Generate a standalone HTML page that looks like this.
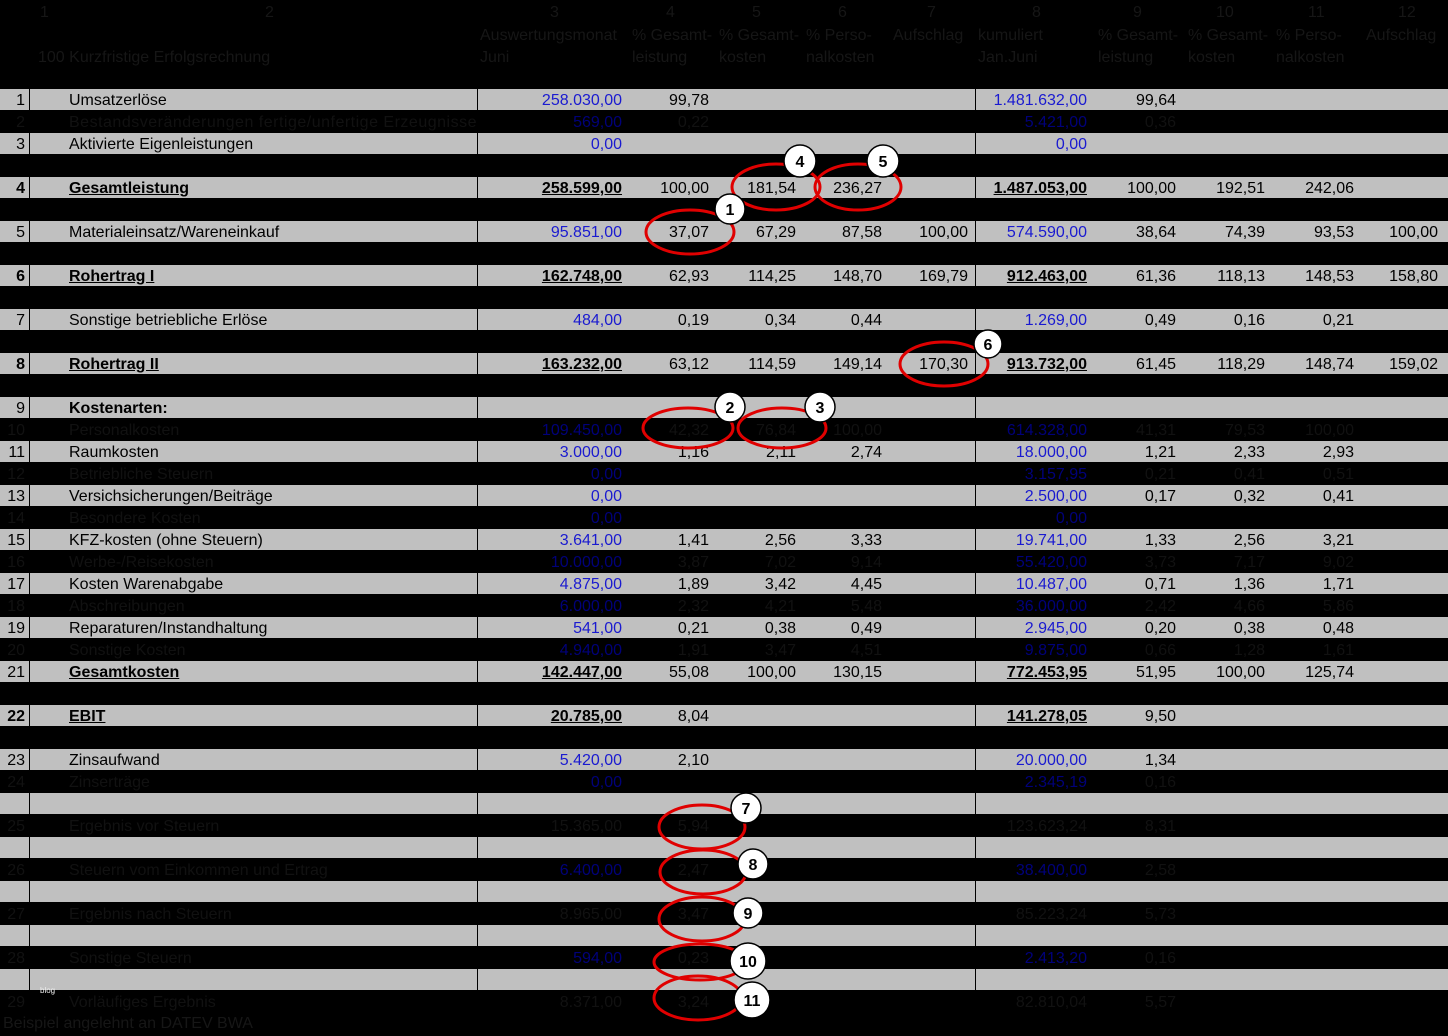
<!DOCTYPE html>
<html><head><meta charset="utf-8"><style>
body{margin:0;background:#000;width:1448px;height:1036px;overflow:hidden;position:relative;font-family:"Liberation Sans",Arial,sans-serif}
.r{position:absolute;left:0;width:1448px;height:21px;line-height:24px;font-size:16px;color:#111}
.g{background:#c0c0c0;color:#000}
.g::before{content:"";position:absolute;left:29px;top:0;bottom:0;border-left:1px solid #000}
.g .v1,.g .v2{position:absolute;top:0;bottom:0;border-left:1px solid #000}
.v1{left:477px}.v2{left:975px}
.r span{position:absolute;white-space:nowrap}
.n{right:1423px}.l{left:69px}
.a{right:826px}.b{right:739px}.c{right:652px}.d{right:566px}.e{right:480px}
.f{right:361px}.h{right:272px}.i{right:183px}.j{right:94px}.m{right:10px}
.bl{color:#1a1ad0}.r.k .bl{color:#00007a}
.B{font-weight:bold}.U{text-decoration:underline}
.hd{position:absolute;color:#161616;font-size:16px;white-space:nowrap}
</style></head><body>
<div class="hd" style="left:40px;top:4px">1</div>
<div class="hd" style="left:265px;top:4px">2</div>
<div class="hd" style="left:550px;top:4px">3</div>
<div class="hd" style="left:666px;top:4px">4</div>
<div class="hd" style="left:752px;top:4px">5</div>
<div class="hd" style="left:838px;top:4px">6</div>
<div class="hd" style="left:927px;top:4px">7</div>
<div class="hd" style="left:1032px;top:4px">8</div>
<div class="hd" style="left:1133px;top:4px">9</div>
<div class="hd" style="left:1216px;top:4px">10</div>
<div class="hd" style="left:1308px;top:4px">11</div>
<div class="hd" style="left:1398px;top:4px">12</div>
<div class="hd" style="left:480px;top:27px">Auswertungsmonat</div>
<div class="hd" style="left:480px;top:49px">Juni</div>
<div class="hd" style="left:38px;top:49px">100 Kurzfristige Erfolgsrechnung</div>
<div class="hd" style="left:632px;top:27px">% Gesamt-</div><div class="hd" style="left:632px;top:49px">leistung</div>
<div class="hd" style="left:719px;top:27px">% Gesamt-</div><div class="hd" style="left:719px;top:49px">kosten</div>
<div class="hd" style="left:806px;top:27px">% Perso-</div><div class="hd" style="left:806px;top:49px">nalkosten</div>
<div class="hd" style="left:893px;top:27px">Aufschlag</div>
<div class="hd" style="left:978px;top:27px">kumuliert</div><div class="hd" style="left:978px;top:49px">Jan.Juni</div>
<div class="hd" style="left:1098px;top:27px">% Gesamt-</div><div class="hd" style="left:1098px;top:49px">leistung</div>
<div class="hd" style="left:1188px;top:27px">% Gesamt-</div><div class="hd" style="left:1188px;top:49px">kosten</div>
<div class="hd" style="left:1276px;top:27px">% Perso-</div><div class="hd" style="left:1276px;top:49px">nalkosten</div>
<div class="hd" style="left:1366px;top:27px">Aufschlag</div>

<div class="r g" style="top:89px"><i class="v1"></i><i class="v2"></i><span class="n">1</span><span class="l">Umsatzerlöse</span><span class="a bl">258.030,00</span><span class="b">99,78</span><span class="f bl">1.481.632,00</span><span class="h">99,64</span></div>
<div class="r k" style="top:111px"><span class="n">2</span><span class="l" style="letter-spacing:0.5px">Bestandsveränderungen fertige/unfertige Erzeugnisse</span><span class="a bl">569,00</span><span class="b">0,22</span><span class="f bl">5.421,00</span><span class="h">0,36</span></div>
<div class="r g" style="top:133px"><i class="v1"></i><i class="v2"></i><span class="n">3</span><span class="l">Aktivierte Eigenleistungen</span><span class="a bl">0,00</span><span class="f bl">0,00</span></div>
<div class="r g" style="top:177px"><i class="v1"></i><i class="v2"></i><span class="n B">4</span><span class="l B U">Gesamtleistung</span><span class="a B U">258.599,00</span><span class="b">100,00</span><span class="c">181,54</span><span class="d">236,27</span><span class="f B U">1.487.053,00</span><span class="h">100,00</span><span class="i">192,51</span><span class="j">242,06</span></div>
<div class="r g" style="top:221px"><i class="v1"></i><i class="v2"></i><span class="n">5</span><span class="l">Materialeinsatz/Wareneinkauf</span><span class="a bl">95.851,00</span><span class="b">37,07</span><span class="c">67,29</span><span class="d">87,58</span><span class="e">100,00</span><span class="f bl">574.590,00</span><span class="h">38,64</span><span class="i">74,39</span><span class="j">93,53</span><span class="m">100,00</span></div>
<div class="r g" style="top:265px"><i class="v1"></i><i class="v2"></i><span class="n B">6</span><span class="l B U">Rohertrag I</span><span class="a B U">162.748,00</span><span class="b">62,93</span><span class="c">114,25</span><span class="d">148,70</span><span class="e">169,79</span><span class="f B U">912.463,00</span><span class="h">61,36</span><span class="i">118,13</span><span class="j">148,53</span><span class="m">158,80</span></div>
<div class="r g" style="top:309px"><i class="v1"></i><i class="v2"></i><span class="n">7</span><span class="l">Sonstige betriebliche Erlöse</span><span class="a bl">484,00</span><span class="b">0,19</span><span class="c">0,34</span><span class="d">0,44</span><span class="f bl">1.269,00</span><span class="h">0,49</span><span class="i">0,16</span><span class="j">0,21</span></div>
<div class="r g" style="top:353px"><i class="v1"></i><i class="v2"></i><span class="n B">8</span><span class="l B U">Rohertrag II</span><span class="a B U">163.232,00</span><span class="b">63,12</span><span class="c">114,59</span><span class="d">149,14</span><span class="e">170,30</span><span class="f B U">913.732,00</span><span class="h">61,45</span><span class="i">118,29</span><span class="j">148,74</span><span class="m">159,02</span></div>
<div class="r g" style="top:397px"><i class="v1"></i><i class="v2"></i><span class="n">9</span><span class="l B">Kostenarten:</span></div>
<div class="r k" style="top:419px"><span class="n">10</span><span class="l">Personalkosten</span><span class="a bl">109.450,00</span><span class="b">42,32</span><span class="c">76,84</span><span class="d">100,00</span><span class="f bl">614.328,00</span><span class="h">41,31</span><span class="i">79,53</span><span class="j">100,00</span></div>
<div class="r g" style="top:441px"><i class="v1"></i><i class="v2"></i><span class="n">11</span><span class="l">Raumkosten</span><span class="a bl">3.000,00</span><span class="b">1,16</span><span class="c">2,11</span><span class="d">2,74</span><span class="f bl">18.000,00</span><span class="h">1,21</span><span class="i">2,33</span><span class="j">2,93</span></div>
<div class="r k" style="top:463px"><span class="n">12</span><span class="l">Betriebliche Steuern</span><span class="a bl">0,00</span><span class="f bl">3.157,95</span><span class="h">0,21</span><span class="i">0,41</span><span class="j">0,51</span></div>
<div class="r g" style="top:485px"><i class="v1"></i><i class="v2"></i><span class="n">13</span><span class="l">Versichsicherungen/Beiträge</span><span class="a bl">0,00</span><span class="f bl">2.500,00</span><span class="h">0,17</span><span class="i">0,32</span><span class="j">0,41</span></div>
<div class="r k" style="top:507px"><span class="n">14</span><span class="l">Besondere Kosten</span><span class="a bl">0,00</span><span class="f bl">0,00</span></div>
<div class="r g" style="top:529px"><i class="v1"></i><i class="v2"></i><span class="n">15</span><span class="l">KFZ-kosten (ohne Steuern)</span><span class="a bl">3.641,00</span><span class="b">1,41</span><span class="c">2,56</span><span class="d">3,33</span><span class="f bl">19.741,00</span><span class="h">1,33</span><span class="i">2,56</span><span class="j">3,21</span></div>
<div class="r k" style="top:551px"><span class="n">16</span><span class="l">Werbe-/Reisekosten</span><span class="a bl">10.000,00</span><span class="b">3,87</span><span class="c">7,02</span><span class="d">9,14</span><span class="f bl">55.420,00</span><span class="h">3,73</span><span class="i">7,17</span><span class="j">9,02</span></div>
<div class="r g" style="top:573px"><i class="v1"></i><i class="v2"></i><span class="n">17</span><span class="l">Kosten Warenabgabe</span><span class="a bl">4.875,00</span><span class="b">1,89</span><span class="c">3,42</span><span class="d">4,45</span><span class="f bl">10.487,00</span><span class="h">0,71</span><span class="i">1,36</span><span class="j">1,71</span></div>
<div class="r k" style="top:595px"><span class="n">18</span><span class="l">Abschreibungen</span><span class="a bl">6.000,00</span><span class="b">2,32</span><span class="c">4,21</span><span class="d">5,48</span><span class="f bl">36.000,00</span><span class="h">2,42</span><span class="i">4,66</span><span class="j">5,86</span></div>
<div class="r g" style="top:617px"><i class="v1"></i><i class="v2"></i><span class="n">19</span><span class="l">Reparaturen/Instandhaltung</span><span class="a bl">541,00</span><span class="b">0,21</span><span class="c">0,38</span><span class="d">0,49</span><span class="f bl">2.945,00</span><span class="h">0,20</span><span class="i">0,38</span><span class="j">0,48</span></div>
<div class="r k" style="top:639px"><span class="n">20</span><span class="l">Sonstige Kosten</span><span class="a bl">4.940,00</span><span class="b">1,91</span><span class="c">3,47</span><span class="d">4,51</span><span class="f bl">9.875,00</span><span class="h">0,66</span><span class="i">1,28</span><span class="j">1,61</span></div>
<div class="r g" style="top:661px"><i class="v1"></i><i class="v2"></i><span class="n">21</span><span class="l B U">Gesamtkosten</span><span class="a B U">142.447,00</span><span class="b">55,08</span><span class="c">100,00</span><span class="d">130,15</span><span class="f B U">772.453,95</span><span class="h">51,95</span><span class="i">100,00</span><span class="j">125,74</span></div>
<div class="r g" style="top:705px"><i class="v1"></i><i class="v2"></i><span class="n B">22</span><span class="l B U">EBIT</span><span class="a B U">20.785,00</span><span class="b">8,04</span><span class="f B U">141.278,05</span><span class="h">9,50</span></div>
<div class="r g" style="top:749px"><i class="v1"></i><i class="v2"></i><span class="n">23</span><span class="l">Zinsaufwand</span><span class="a bl">5.420,00</span><span class="b">2,10</span><span class="f bl">20.000,00</span><span class="h">1,34</span></div>
<div class="r k" style="top:771px"><span class="n">24</span><span class="l">Zinserträge</span><span class="a bl">0,00</span><span class="f bl">2.345,19</span><span class="h">0,16</span></div>
<div class="r g" style="top:793px"><i class="v1"></i><i class="v2"></i></div>
<div class="r k" style="top:815px"><span class="n">25</span><span class="l">Ergebnis vor Steuern</span><span class="a">15.365,00</span><span class="b">5,94</span><span class="f">123.623,24</span><span class="h">8,31</span></div>
<div class="r g" style="top:837px"><i class="v1"></i><i class="v2"></i></div>
<div class="r k" style="top:859px"><span class="n">26</span><span class="l">Steuern vom Einkommen und Ertrag</span><span class="a bl">6.400,00</span><span class="b">2,47</span><span class="f bl">38.400,00</span><span class="h">2,58</span></div>
<div class="r g" style="top:881px"><i class="v1"></i><i class="v2"></i></div>
<div class="r k" style="top:903px"><span class="n">27</span><span class="l">Ergebnis nach Steuern</span><span class="a">8.965,00</span><span class="b">3,47</span><span class="f">85.223,24</span><span class="h">5,73</span></div>
<div class="r g" style="top:925px"><i class="v1"></i><i class="v2"></i></div>
<div class="r k" style="top:947px"><span class="n">28</span><span class="l">Sonstige Steuern</span><span class="a bl">594,00</span><span class="b">0,23</span><span class="f bl">2.413,20</span><span class="h">0,16</span></div>
<div class="r g" style="top:969px"><i class="v1"></i><i class="v2"></i></div>
<div class="r k" style="top:991px"><span class="n">29</span><span class="l">Vorläufiges Ergebnis</span><span class="a">8.371,00</span><span class="b">3,24</span><span class="f">82.810,04</span><span class="h">5,57</span></div>
<div class="hd" style="left:3px;top:1015px">Beispiel angelehnt an DATEV BWA</div>
<div class="hd" style="left:40px;top:986px;font-size:8px;color:#eee">blog</div>

<svg width="1448" height="1036" style="position:absolute;left:0;top:0" font-family="Liberation Sans, Arial, sans-serif" font-weight="bold" font-size="16" text-anchor="middle">
<g fill="none" stroke="#e00000" stroke-width="3">
<ellipse cx="690" cy="232" rx="44" ry="22"/>
<ellipse cx="776" cy="187" rx="44" ry="23"/>
<ellipse cx="858" cy="187" rx="43" ry="23"/>
<ellipse cx="944" cy="364" rx="44" ry="22"/>
<ellipse cx="688" cy="428" rx="45" ry="20"/>
<ellipse cx="782" cy="428" rx="44" ry="20"/>
<ellipse cx="702" cy="827" rx="43" ry="22"/>
<ellipse cx="703" cy="872" rx="43" ry="22"/>
<ellipse cx="702" cy="919" rx="43" ry="22"/>
<ellipse cx="700" cy="962" rx="46" ry="18"/>
<ellipse cx="698" cy="998" rx="44" ry="22"/>
</g>
<g fill="#fff" stroke="#000" stroke-width="1.5">
<circle cx="730" cy="209" r="15"/><circle cx="800" cy="161" r="16"/><circle cx="883" cy="161" r="16"/>
<circle cx="988" cy="344" r="14"/><circle cx="730" cy="407" r="15"/><circle cx="820" cy="407" r="15"/>
<circle cx="746" cy="808" r="15"/><circle cx="753" cy="864" r="15"/><circle cx="748" cy="913" r="15"/>
<circle cx="748" cy="961" r="18"/><circle cx="752" cy="1000" r="18"/>
</g>
<g fill="#000">
<text x="730" y="215">1</text><text x="800" y="167">4</text><text x="883" y="167">5</text>
<text x="988" y="350">6</text><text x="730" y="413">2</text><text x="820" y="413">3</text>
<text x="746" y="814">7</text><text x="753" y="870">8</text><text x="748" y="919">9</text>
<text x="748" y="967">10</text><text x="752" y="1006">11</text>
</g>
</svg>
</body></html>
